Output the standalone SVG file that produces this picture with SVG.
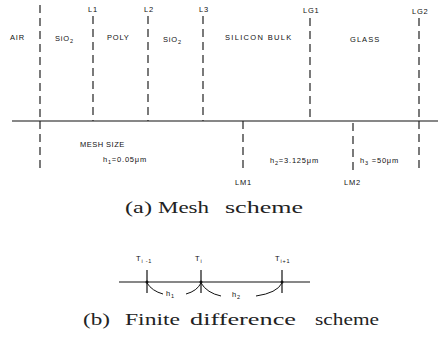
<svg xmlns="http://www.w3.org/2000/svg" width="438" height="339" viewBox="0 0 438 339">
<style>
.dash{stroke:#222;stroke-width:1.2;stroke-dasharray:8 5;fill:none}
.solid{stroke:#111;stroke-width:1.2;fill:none}
.lbl{font-family:"Liberation Sans",Arial,sans-serif;font-size:7.5px;fill:#111;letter-spacing:0.8px}
.cap{font-family:"Liberation Serif","Times New Roman",serif;font-size:16px;fill:#222}
.capb{font-family:"Liberation Serif","Times New Roman",serif;font-size:17px;fill:#222}
.arc{stroke:#111;stroke-width:1;fill:none}
</style>
<rect width="438" height="339" fill="#fff"/>
<g id="connectors">
<line class="solid" x1="12" y1="121" x2="438" y2="121"/>
<line class="dash" x1="40" y1="5" x2="40" y2="121"/>
<line class="dash" x1="40" y1="121" x2="40" y2="168"/>
<line class="dash" x1="93" y1="16" x2="93" y2="121"/>
<line class="dash" x1="148" y1="16" x2="148" y2="121"/>
<line class="dash" x1="203" y1="16" x2="203" y2="121"/>
<line class="dash" x1="310" y1="18" x2="310" y2="121"/>
<line class="dash" x1="419" y1="18" x2="419" y2="121"/>
<line class="dash" x1="419" y1="121" x2="419" y2="168"/>
<line class="dash" x1="243" y1="121" x2="243" y2="172"/>
<line class="dash" x1="353" y1="123" x2="353" y2="172"/>
</g>
<g id="labels-top">
<text class="lbl" x="10" y="40">AIR</text>
<text class="lbl" x="55" y="41">SiO<tspan font-size="5.5" dy="2">2</tspan></text>
<text class="lbl" x="107" y="40">POLY</text>
<text class="lbl" x="163" y="42">SiO<tspan font-size="5.5" dy="2">2</tspan></text>
<text class="lbl" x="225" y="40" textLength="67" lengthAdjust="spacing">SILICON  BULK</text>
<text class="lbl" x="350" y="42" textLength="30" lengthAdjust="spacing">GLASS</text>
<text class="lbl" x="88" y="12">L1</text>
<text class="lbl" x="144" y="12">L2</text>
<text class="lbl" x="199" y="12">L3</text>
<text class="lbl" x="303" y="13">LG1</text>
<text class="lbl" x="412" y="14">LG2</text>
</g>
<g id="labels-bottom">
<text class="lbl" x="80" y="147" textLength="45" lengthAdjust="spacing">MESH SIZE</text>
<text class="lbl" x="103" y="162">h<tspan font-size="5.5" dy="1.5">1</tspan><tspan dy="-1.5">=0.05μm</tspan></text>
<text class="lbl" x="270" y="163">h<tspan font-size="5.5" dy="1.5">2</tspan><tspan dy="-1.5">=3.125μm</tspan></text>
<text class="lbl" x="360" y="163">h<tspan font-size="5.5" dy="1.5">3</tspan><tspan dy="-1.5"> =50μm</tspan></text>
<text class="lbl" x="235" y="185">LM1</text>
<text class="lbl" x="344" y="185">LM2</text>
</g>
<g id="caption-a">
<text class="cap" x="125" y="213" textLength="27" lengthAdjust="spacingAndGlyphs">(a)</text>
<text class="cap" x="158" y="213" textLength="51" lengthAdjust="spacingAndGlyphs">Mesh</text>
<text class="cap" x="225" y="213" textLength="78" lengthAdjust="spacingAndGlyphs">scheme</text>
</g>
<g id="fd">
<line class="solid" x1="119" y1="282" x2="310" y2="282"/>
<line class="solid" x1="147" y1="270" x2="147" y2="293"/>
<line class="solid" x1="201" y1="270" x2="201" y2="293"/>
<line class="solid" x1="282" y1="270" x2="282" y2="293"/>
<circle cx="147" cy="282" r="1.5" fill="#111"/>
<circle cx="201" cy="282" r="1.5" fill="#111"/>
<circle cx="282" cy="282" r="1.5" fill="#111"/>
<path class="arc" d="M147 283 Q152 291 163 294"/>
<path class="arc" d="M186 294 Q197 291 201 283"/>
<path class="arc" d="M201 283 Q207 293 221 296"/>
<path class="arc" d="M256 296 Q277 293 282 283"/>
<text class="lbl" x="136" y="261">T<tspan font-size="5.5" dy="1.5">i -1</tspan></text>
<text class="lbl" x="195" y="261">T<tspan font-size="5.5" dy="1.5">i</tspan></text>
<text class="lbl" x="275" y="261">T<tspan font-size="5.5" dy="1.5">i+1</tspan></text>
<text class="lbl" x="166" y="296">h<tspan font-size="5.5" dy="1.5">1</tspan></text>
<text class="lbl" x="232" y="297">h<tspan font-size="5.5" dy="1.5">2</tspan></text>
</g>
<g id="caption-b">
<text class="capb" x="83" y="325" textLength="27" lengthAdjust="spacingAndGlyphs">(b)</text>
<text class="capb" x="125" y="325" textLength="55" lengthAdjust="spacingAndGlyphs">Finite</text>
<text class="capb" x="190" y="325" textLength="106" lengthAdjust="spacingAndGlyphs">difference</text>
<text class="capb" x="315" y="325" textLength="64" lengthAdjust="spacingAndGlyphs">scheme</text>
</g>
</svg>
